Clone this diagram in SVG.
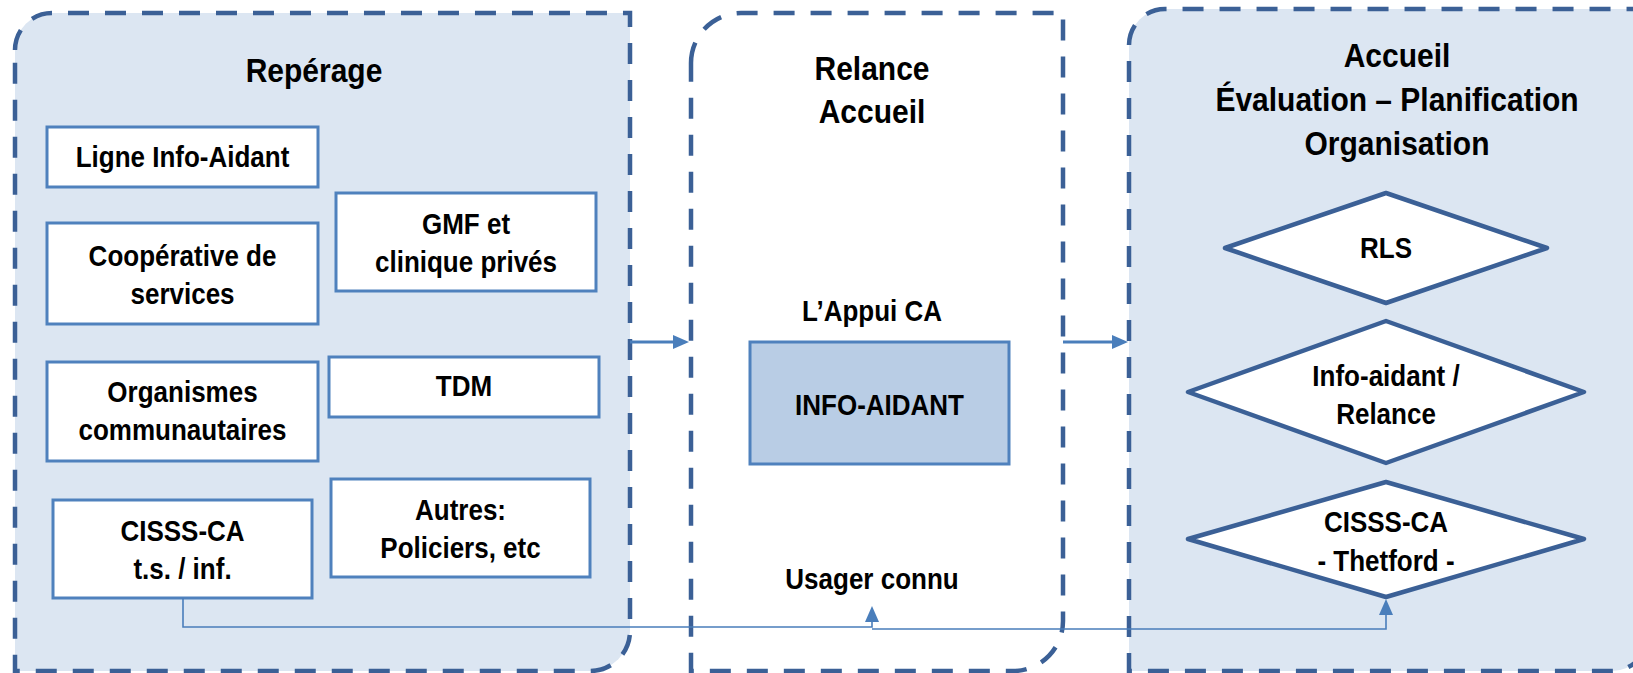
<svg xmlns="http://www.w3.org/2000/svg" width="1633" height="673" viewBox="0 0 1633 673">
<defs>
<style>
.cont{stroke:#3B6096;stroke-width:4.5;stroke-dasharray:21 16;}
.fillb{fill:#DCE6F2;}
.box{fill:#FFFFFF;stroke:#4F81BD;stroke-width:3;}
.dia{fill:#FFFFFF;stroke:#3B6096;stroke-width:4.5;stroke-linejoin:round;}
.t{font-family:"Liberation Sans",Arial,sans-serif;font-weight:bold;font-size:26px;fill:#000000;text-anchor:middle;}
.ti{font-size:30px;}
.c{fill:none;stroke:#4A7EBB;}
.thick{stroke-width:3;}
.thin{stroke-width:1.6;}
</style>
<marker id="ah" markerUnits="userSpaceOnUse" markerWidth="16" markerHeight="14" viewBox="0 0 16 14" refX="4" refY="7" orient="auto">
<path d="M0,0 L16,7 L0,14 z" fill="#4A7EBB"/>
</marker>
</defs>
<rect width="1633" height="673" fill="#FFFFFF"/>

<g id="reperage">
<path class="cont fillb" d="M15,50 A37,37 0 0 1 52,13 H630 V631 A40,40 0 0 1 590,671 H15 Z"/>
<text class="t ti" transform="translate(314,82) scale(1,1.1)">Repérage</text>
</g>

<g id="relance">
<path class="cont" fill="#FFFFFF" d="M691,63 A50,50 0 0 1 741,13 H1063 V621 A50,50 0 0 1 1013,671 H691 Z"/>
<text class="t ti" transform="translate(872,80) scale(1,1.1)">Relance</text>
<text class="t ti" transform="translate(872,123) scale(1,1.1)">Accueil</text>
</g>

<g id="accueil">
<path class="cont fillb" d="M1129,45 A36,36 0 0 1 1165,9 H1648 V635 A36,36 0 0 1 1612,671 H1129 Z"/>
<text class="t ti" transform="translate(1397,67) scale(1,1.1)">Accueil</text>
<text class="t ti" transform="translate(1397,111) scale(1,1.1)">Évaluation – Planification</text>
<text class="t ti" transform="translate(1397,155) scale(1,1.1)">Organisation</text>
</g>

<g id="ligne-info-aidant">
<rect class="box" x="47" y="127" width="271" height="60"/>
<text class="t" transform="translate(182.5,167) scale(1,1.1)">Ligne Info-Aidant</text>
</g>

<g id="cooperative">
<rect class="box" x="47" y="223" width="271" height="101"/>
<text class="t" transform="translate(182.5,266) scale(1,1.1)">Coopérative de</text>
<text class="t" transform="translate(182.5,304) scale(1,1.1)">services</text>
</g>

<g id="gmf">
<rect class="box" x="336" y="193" width="260" height="98"/>
<text class="t" transform="translate(466,234) scale(1,1.1)">GMF et</text>
<text class="t" transform="translate(466,272) scale(1,1.1)">clinique privés</text>
</g>

<g id="organismes">
<rect class="box" x="47" y="362" width="271" height="99"/>
<text class="t" transform="translate(182.5,402) scale(1,1.1)">Organismes</text>
<text class="t" transform="translate(182.5,440) scale(1,1.1)">communautaires</text>
</g>

<g id="tdm">
<rect class="box" x="329" y="357" width="270" height="60"/>
<text class="t" transform="translate(464,396) scale(1,1.1)">TDM</text>
</g>

<g id="cisss-ca-ts">
<rect class="box" x="53" y="500" width="259" height="98"/>
<text class="t" transform="translate(182.5,541) scale(1,1.1)">CISSS-CA</text>
<text class="t" transform="translate(182.5,579) scale(1,1.1)">t.s. / inf.</text>
</g>

<g id="autres">
<rect class="box" x="331" y="479" width="259" height="98"/>
<text class="t" transform="translate(460.5,520) scale(1,1.1)">Autres:</text>
<text class="t" transform="translate(460.5,558) scale(1,1.1)">Policiers, etc</text>
</g>

<g id="appui-ca">
<text class="t" transform="translate(872,321) scale(1,1.1)">L’Appui CA</text>
</g>

<g id="info-aidant">
<rect x="750" y="342" width="259" height="122" fill="#B9CDE5" stroke="#4F81BD" stroke-width="3"/>
<text class="t" transform="translate(879.5,415) scale(1,1.1)">INFO-AIDANT</text>
</g>

<g id="usager-connu">
<text class="t" transform="translate(872,589) scale(1,1.1)">Usager connu</text>
</g>

<g id="rls">
<polygon class="dia" points="1225,248 1386,193 1547,248 1386,303"/>
<text class="t" transform="translate(1386,258) scale(1,1.1)">RLS</text>
</g>

<g id="info-aidant-relance">
<polygon class="dia" points="1188,392 1386,321 1584,392 1386,463"/>
<text class="t" transform="translate(1386,386) scale(1,1.1)">Info-aidant /</text>
<text class="t" transform="translate(1386,424) scale(1,1.1)">Relance</text>
</g>

<g id="cisss-ca-thetford">
<polygon class="dia" points="1188,539 1386,482 1584,539 1386,597"/>
<text class="t" transform="translate(1386,532) scale(1,1.1)">CISSS-CA</text>
<text class="t" transform="translate(1386,571) scale(1,1.1)">- Thetford -</text>
</g>

<g id="connectors">
<path class="c thick" d="M630,342 H677" marker-end="url(#ah)"/>
<path class="c thick" d="M1063,342 H1116" marker-end="url(#ah)"/>
<path class="c thin" d="M183,598 V627 H872 V618" marker-end="url(#ah)"/>
<path class="c thin" d="M872,629 H1386 V611" marker-end="url(#ah)"/>
</g>
</svg>
